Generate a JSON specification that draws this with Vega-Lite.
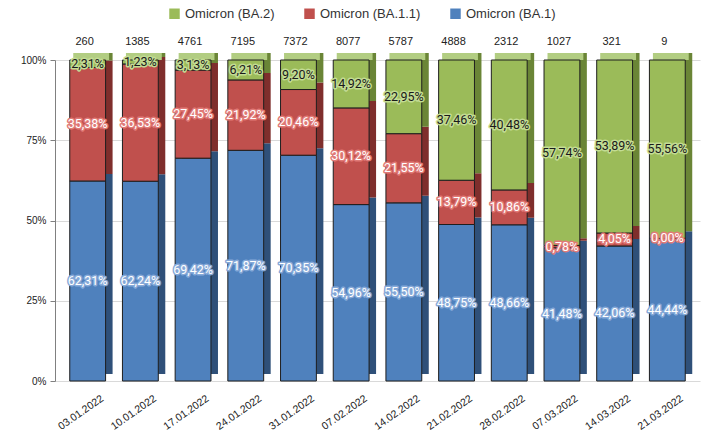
{
  "$schema": "https://vega.github.io/schema/vega-lite/v6.json",
  "width": 645,
  "height": 321,
  "autosize": "none",
  "padding": {"left": 55, "top": 60, "right": 11, "bottom": 61},
  "config": {
    "locale": {"number": {"decimal": ",", "thousands": ".", "grouping": [3], "currency": ["", " €"]}},
    "view": {"stroke": null},
    "font": "Liberation Sans"
  },
  "datasets": {
    "shares": [
      {"date": "03.01.2022", "variant": "Omicron (BA.1)", "value": 62.31, "order": 1},
      {"date": "03.01.2022", "variant": "Omicron (BA.1.1)", "value": 35.38, "order": 2},
      {"date": "03.01.2022", "variant": "Omicron (BA.2)", "value": 2.31, "order": 3},
      {"date": "10.01.2022", "variant": "Omicron (BA.1)", "value": 62.24, "order": 1},
      {"date": "10.01.2022", "variant": "Omicron (BA.1.1)", "value": 36.53, "order": 2},
      {"date": "10.01.2022", "variant": "Omicron (BA.2)", "value": 1.23, "order": 3},
      {"date": "17.01.2022", "variant": "Omicron (BA.1)", "value": 69.42, "order": 1},
      {"date": "17.01.2022", "variant": "Omicron (BA.1.1)", "value": 27.45, "order": 2},
      {"date": "17.01.2022", "variant": "Omicron (BA.2)", "value": 3.13, "order": 3},
      {"date": "24.01.2022", "variant": "Omicron (BA.1)", "value": 71.87, "order": 1},
      {"date": "24.01.2022", "variant": "Omicron (BA.1.1)", "value": 21.92, "order": 2},
      {"date": "24.01.2022", "variant": "Omicron (BA.2)", "value": 6.21, "order": 3},
      {"date": "31.01.2022", "variant": "Omicron (BA.1)", "value": 70.35, "order": 1},
      {"date": "31.01.2022", "variant": "Omicron (BA.1.1)", "value": 20.46, "order": 2},
      {"date": "31.01.2022", "variant": "Omicron (BA.2)", "value": 9.20, "order": 3},
      {"date": "07.02.2022", "variant": "Omicron (BA.1)", "value": 54.96, "order": 1},
      {"date": "07.02.2022", "variant": "Omicron (BA.1.1)", "value": 30.12, "order": 2},
      {"date": "07.02.2022", "variant": "Omicron (BA.2)", "value": 14.92, "order": 3},
      {"date": "14.02.2022", "variant": "Omicron (BA.1)", "value": 55.50, "order": 1},
      {"date": "14.02.2022", "variant": "Omicron (BA.1.1)", "value": 21.55, "order": 2},
      {"date": "14.02.2022", "variant": "Omicron (BA.2)", "value": 22.95, "order": 3},
      {"date": "21.02.2022", "variant": "Omicron (BA.1)", "value": 48.75, "order": 1},
      {"date": "21.02.2022", "variant": "Omicron (BA.1.1)", "value": 13.79, "order": 2},
      {"date": "21.02.2022", "variant": "Omicron (BA.2)", "value": 37.46, "order": 3},
      {"date": "28.02.2022", "variant": "Omicron (BA.1)", "value": 48.66, "order": 1},
      {"date": "28.02.2022", "variant": "Omicron (BA.1.1)", "value": 10.86, "order": 2},
      {"date": "28.02.2022", "variant": "Omicron (BA.2)", "value": 40.48, "order": 3},
      {"date": "07.03.2022", "variant": "Omicron (BA.1)", "value": 41.48, "order": 1},
      {"date": "07.03.2022", "variant": "Omicron (BA.1.1)", "value": 0.78, "order": 2},
      {"date": "07.03.2022", "variant": "Omicron (BA.2)", "value": 57.74, "order": 3},
      {"date": "14.03.2022", "variant": "Omicron (BA.1)", "value": 42.06, "order": 1},
      {"date": "14.03.2022", "variant": "Omicron (BA.1.1)", "value": 4.05, "order": 2},
      {"date": "14.03.2022", "variant": "Omicron (BA.2)", "value": 53.89, "order": 3},
      {"date": "21.03.2022", "variant": "Omicron (BA.1)", "value": 44.44, "order": 1},
      {"date": "21.03.2022", "variant": "Omicron (BA.1.1)", "value": 0.00, "order": 2},
      {"date": "21.03.2022", "variant": "Omicron (BA.2)", "value": 55.56, "order": 3}
    ],
    "totals": [
      {"date": "03.01.2022", "total": 260},
      {"date": "10.01.2022", "total": 1385},
      {"date": "17.01.2022", "total": 4761},
      {"date": "24.01.2022", "total": 7195},
      {"date": "31.01.2022", "total": 7372},
      {"date": "07.02.2022", "total": 8077},
      {"date": "14.02.2022", "total": 5787},
      {"date": "21.02.2022", "total": 4888},
      {"date": "28.02.2022", "total": 2312},
      {"date": "07.03.2022", "total": 1027},
      {"date": "14.03.2022", "total": 321},
      {"date": "21.03.2022", "total": 9}
    ]
  },
  "encoding": {
    "x": {
      "field": "date",
      "type": "ordinal",
      "sort": null,
      "title": null,
      "scale": {"paddingInner": 0.32, "paddingOuter": 0.28},
      "axis": {
        "labelAngle": -35,
        "labelAlign": "right",
        "labelBaseline": "top",
        "labelOffset": 12,
        "labelPadding": 12,
        "labelFontSize": 10.5,
        "labelColor": "#222222",
        "domain": false,
        "ticks": false
      }
    }
  },
  "layer": [
    {
      "data": {"name": "shares"},
      "transform": [
        {"stack": "value", "groupby": ["date"], "sort": [{"field": "order", "order": "ascending"}], "offset": "normalize", "as": ["y0", "y1"]},
        {"calculate": "(datum.y0 + datum.y1) / 2", "as": "mid"},
        {"calculate": "replace(format(datum.value, '.2f'), '.', ',') + '%'", "as": "label"}
      ],
      "layer": [
        {
          "mark": {"type": "bar", "xOffset": 7, "yOffset": -7, "y2Offset": -7},
          "encoding": {
            "y": {"field": "y0", "type": "quantitative", "scale": {"domain": [0, 1]}, "title": null,
              "axis": {"values": [0, 0.25, 0.5, 0.75, 1], "format": ".0%", "grid": true, "gridColor": "#d9d9d9",
                "domainColor": "#808080", "tickColor": "#808080", "labelFontSize": 10, "labelColor": "#222222", "labelPadding": 4}},
            "y2": {"field": "y1"},
            "fill": {
              "condition": [
                {"test": "datum.variant === 'Omicron (BA.2)'", "value": "#6a8536"},
                {"test": "datum.variant === 'Omicron (BA.1.1)'", "value": "#7f2e2c"}
              ],
              "value": "#2f5079"
            }
          }
        },
        {
          "transform": [{"filter": "datum.variant === 'Omicron (BA.2)'"}],
          "mark": {"type": "bar", "xOffset": 3.5, "yOffset": -7, "y2Offset": 0, "fill": "#b2cd82"},
          "encoding": {
            "y": {"field": "y1", "type": "quantitative"},
            "y2": {"field": "y1"}
          }
        },
        {
          "mark": {"type": "bar", "stroke": "#1e1e1e", "strokeWidth": 1},
          "encoding": {
            "y": {"field": "y0", "type": "quantitative"},
            "y2": {"field": "y1"},
            "fill": {
              "field": "variant", "type": "nominal",
              "scale": {"domain": ["Omicron (BA.2)", "Omicron (BA.1.1)", "Omicron (BA.1)"], "range": ["#9bbb59", "#c0504d", "#4f81bd"]},
              "legend": {
                "orient": "none", "legendX": 113, "legendY": -53, "direction": "horizontal", "title": null, "symbolType": "square",
                "symbolSize": 110, "symbolStrokeWidth": 0, "labelFontSize": 13, "labelColor": "#333333",
                "columnPadding": 28
              }
            }
          }
        },
        {
          "mark": {"type": "text", "fontSize": 12.5, "font": "Roboto", "strokeWidth": 3, "strokeJoin": "round"},
          "encoding": {
            "y": {"field": "mid", "type": "quantitative"},
            "text": {"field": "label"},
            "stroke": {
              "condition": [
                {"test": "datum.variant === 'Omicron (BA.2)'", "value": "#c3dc94"},
                {"test": "datum.variant === 'Omicron (BA.1.1)'", "value": "#e07a77"}
              ],
              "value": "#86a9d8"
            },
            "fill": {
              "condition": [
                {"test": "datum.variant === 'Omicron (BA.2)'", "value": "#c3dc94"},
                {"test": "datum.variant === 'Omicron (BA.1.1)'", "value": "#e07a77"}
              ],
              "value": "#86a9d8"
            }
          }
        },
        {
          "mark": {"type": "text", "fontSize": 12.5, "font": "Roboto"},
          "encoding": {
            "y": {"field": "mid", "type": "quantitative"},
            "text": {"field": "label"},
            "fill": {
              "condition": {"test": "datum.variant === 'Omicron (BA.2)'", "value": "#1a1a1a"},
              "value": "#ffffff"
            }
          }
        }
      ]
    },
    {
      "data": {"name": "totals"},
      "mark": {"type": "text", "fontSize": 11, "color": "#222222", "dx": -3},
      "encoding": {
        "y": {"datum": 1.056, "type": "quantitative"},
        "text": {"field": "total", "type": "quantitative", "format": "d"}
      }
    }
  ]
}
